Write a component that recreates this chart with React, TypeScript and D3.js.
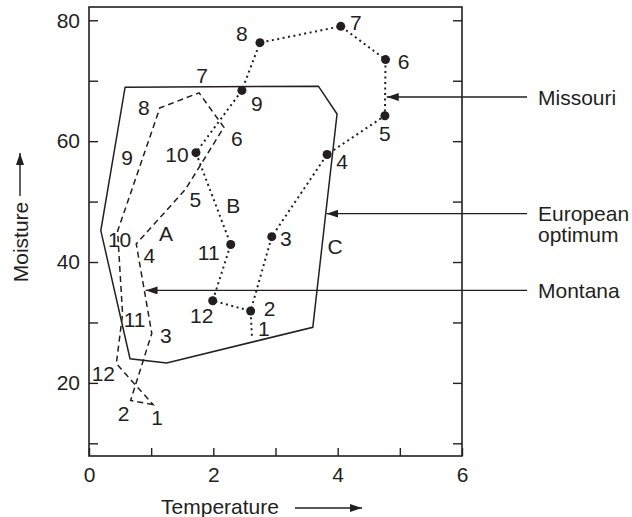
import { useEffect, useRef } from "react";
import * as d3 from "d3";

// month labels (January..December)
const months = ["1", "2", "3", "4", "5", "6", "7", "8", "9", "10", "11", "12"];

const montanaTemp = [1.03, 0.67, 1.01, 0.76, 1.55, 2.17, 1.77, 1.14, 0.87, 0.46, 0.54, 0.44];
const montanaMoist = [16.4, 17.1, 28.2, 43.0, 52.0, 62.3, 68.0, 65.5, 57.4, 45.1, 31.4, 23.2];

const missouriTemp = [2.62, 2.6, 2.94, 3.83, 4.76, 4.77, 4.05, 2.75, 2.46, 1.72, 2.28, 1.99];
const missouriMoist = [27.8, 31.9, 44.2, 57.8, 64.2, 73.5, 79.0, 76.3, 68.4, 58.1, 42.9, 33.6];

const optimumTemp = [0.58, 3.69, 3.99, 3.6, 1.25, 0.66, 0.19];
const optimumMoist = [68.9, 69.1, 64.5, 29.2, 23.3, 24.0, 45.2];

const regionNames = ["A", "B", "C"];
const regionTemp = [1.24, 2.32, 3.96];
const regionMoist = [44.7, 49.4, 42.5];

const calloutNames = [["Missouri"], ["European", "optimum"], ["Montana"]];
const calloutTemp = [4.79, 3.82, 0.91];
const calloutMoist = [67.3, 48.0, 35.3];

const yTicks = [10, 20, 30, 40, 50, 60, 70, 80];
const xTicks = [0, 1, 2, 3, 4, 5, 6];

// label placement (pixels from the point)
const montanaDx = [4, -7, 14, 13, 10, 13, 3, -16, -16, 2, 12, -13];
const montanaDy = [13, 13, 2, 12, 10, 11, -17, 0, 1, 8, 6, 10];
const missouriDx = [12, 19, 14, 15, 0, 18, 15, -18, 15, -19, -22, -11];
const missouriDy = [-7, -2, 2, 7, 18, 2, -4, -9, 13, 2, 8, 15];

const INK = "#231f20";
const FONT = "'Liberation Sans', Arial, Helvetica, sans-serif";

export default function App() {
  const ref = useRef<SVGSVGElement>(null);

  useEffect(() => {
    const svg = d3.select(ref.current);
    svg.selectAll("*").remove();

    const x = d3.scaleLinear().domain([0, 6]).range([89, 462]);
    const y = d3.scaleLinear().domain([7.9, 82.2]).range([456, 7]);

    const defs = svg.append("defs");
    defs
      .append("marker")
      .attr("id", "head")
      .attr("viewBox", "0 0 12 8")
      .attr("refX", 12)
      .attr("refY", 4)
      .attr("markerWidth", 12)
      .attr("markerHeight", 8)
      .attr("markerUnits", "userSpaceOnUse")
      .attr("orient", "auto")
      .append("path")
      .attr("d", "M0,0L12,4L0,8Z")
      .attr("fill", INK);

    // frame
    svg
      .append("rect")
      .attr("x", x(0))
      .attr("y", y(82.2))
      .attr("width", x(6) - x(0))
      .attr("height", y(7.9) - y(82.2))
      .attr("fill", "none")
      .attr("stroke", INK)
      .attr("stroke-width", 1.6);

    const styleAxis = (g) => {
      g.select(".domain").remove();
      g.selectAll("line").attr("stroke", INK).attr("stroke-width", 1.4);
      g.selectAll("text")
        .attr("fill", INK)
        .style("font-family", FONT)
        .style("font-size", "21px");
    };

    svg
      .append("g")
      .attr("transform", `translate(${x(0)},0)`)
      .call(
        d3
          .axisLeft(y)
          .tickValues(yTicks)
          .tickSize(-9)
          .tickPadding(9)
          .tickFormat((d) => (+d % 20 === 0 ? String(d) : ""))
      )
      .call(styleAxis);

    svg
      .append("g")
      .attr("transform", `translate(${x(6)},0)`)
      .call(d3.axisRight(y).tickValues(yTicks).tickSize(-9).tickFormat(() => ""))
      .call(styleAxis);

    svg
      .append("g")
      .attr("transform", `translate(0,${y(7.9)})`)
      .call(
        d3
          .axisBottom(x)
          .tickValues(xTicks)
          .tickSize(-8)
          .tickPadding(11)
          .tickFormat((d) => (+d % 2 === 0 ? String(d) : ""))
      )
      .call(styleAxis);

    const line = d3
      .line<number>()
      .x((d) => d[0])
      .y((d) => d[1]);

    // European optimum polygon
    const opt = optimumTemp.map((t, i) => [x(t), y(optimumMoist[i])]);
    svg
      .append("path")
      .attr("d", line.curve(d3.curveLinearClosed)(opt))
      .attr("fill", "none")
      .attr("stroke", INK)
      .attr("stroke-width", 1.5);

    // Montana (dashed, closed)
    const mon = montanaTemp.map((t, i) => [x(t), y(montanaMoist[i])]);
    svg
      .append("path")
      .attr("d", line.curve(d3.curveLinearClosed)(mon))
      .attr("fill", "none")
      .attr("stroke", INK)
      .attr("stroke-width", 1.5)
      .attr("stroke-dasharray", "6,4");

    // Missouri (dotted), December joins back to February
    const mis = missouriTemp.map((t, i) => [x(t), y(missouriMoist[i])]);
    const misPath = mis.concat([mis[1]]);
    svg
      .append("path")
      .attr("d", line.curve(d3.curveLinear)(misPath))
      .attr("fill", "none")
      .attr("stroke", INK)
      .attr("stroke-width", 2)
      .attr("stroke-dasharray", "2,3.5");

    svg
      .append("g")
      .selectAll("circle")
      .data(mis.slice(1))
      .join("circle")
      .attr("cx", (d) => d[0])
      .attr("cy", (d) => d[1])
      .attr("r", 4.5)
      .attr("fill", INK);

    const textGroup = svg
      .append("g")
      .attr("fill", INK)
      .style("font-family", FONT)
      .style("font-size", "21px");

    mon.forEach((p, i) => {
      textGroup
        .append("text")
        .attr("x", p[0] + montanaDx[i])
        .attr("y", p[1] + montanaDy[i])
        .attr("text-anchor", "middle")
        .attr("dominant-baseline", "central")
        .text(months[i]);
    });
    mis.forEach((p, i) => {
      textGroup
        .append("text")
        .attr("x", p[0] + missouriDx[i])
        .attr("y", p[1] + missouriDy[i])
        .attr("text-anchor", "middle")
        .attr("dominant-baseline", "central")
        .text(months[i]);
    });
    regionNames.forEach((n, i) => {
      textGroup
        .append("text")
        .attr("x", x(regionTemp[i]))
        .attr("y", y(regionMoist[i]))
        .attr("text-anchor", "middle")
        .attr("dominant-baseline", "central")
        .text(n);
    });

    // callouts on the right
    calloutNames.forEach((lines, i) => {
      const ty = y(calloutMoist[i]);
      svg
        .append("line")
        .attr("x1", 527)
        .attr("x2", x(calloutTemp[i]))
        .attr("y1", ty)
        .attr("y2", ty)
        .attr("stroke", INK)
        .attr("stroke-width", 1.4)
        .attr("marker-end", "url(#head)");
      lines.forEach((s, j) => {
        textGroup
          .append("text")
          .attr("x", 538)
          .attr("y", ty + j * 21)
          .attr("dominant-baseline", "central")
          .text(s);
      });
    });

    // axis titles
    textGroup
      .append("text")
      .attr("x", 220)
      .attr("y", 506)
      .attr("text-anchor", "middle")
      .attr("dominant-baseline", "central")
      .text("Temperature");
    svg
      .append("line")
      .attr("x1", 295)
      .attr("x2", 362)
      .attr("y1", 508)
      .attr("y2", 508)
      .attr("stroke", INK)
      .attr("stroke-width", 1.4)
      .attr("marker-end", "url(#head)");

    textGroup
      .append("text")
      .attr("transform", "translate(20,242) rotate(-90)")
      .attr("text-anchor", "middle")
      .attr("dominant-baseline", "central")
      .text("Moisture");
    svg
      .append("line")
      .attr("x1", 20)
      .attr("x2", 20)
      .attr("y1", 196)
      .attr("y2", 153)
      .attr("stroke", INK)
      .attr("stroke-width", 1.4)
      .attr("marker-end", "url(#head)");
  }, []);

  return (
    <svg
      ref={ref}
      width={632}
      height={517}
      style={{ position: "absolute", left: 0, top: 0, background: "#fff" }}
    />
  );
}
